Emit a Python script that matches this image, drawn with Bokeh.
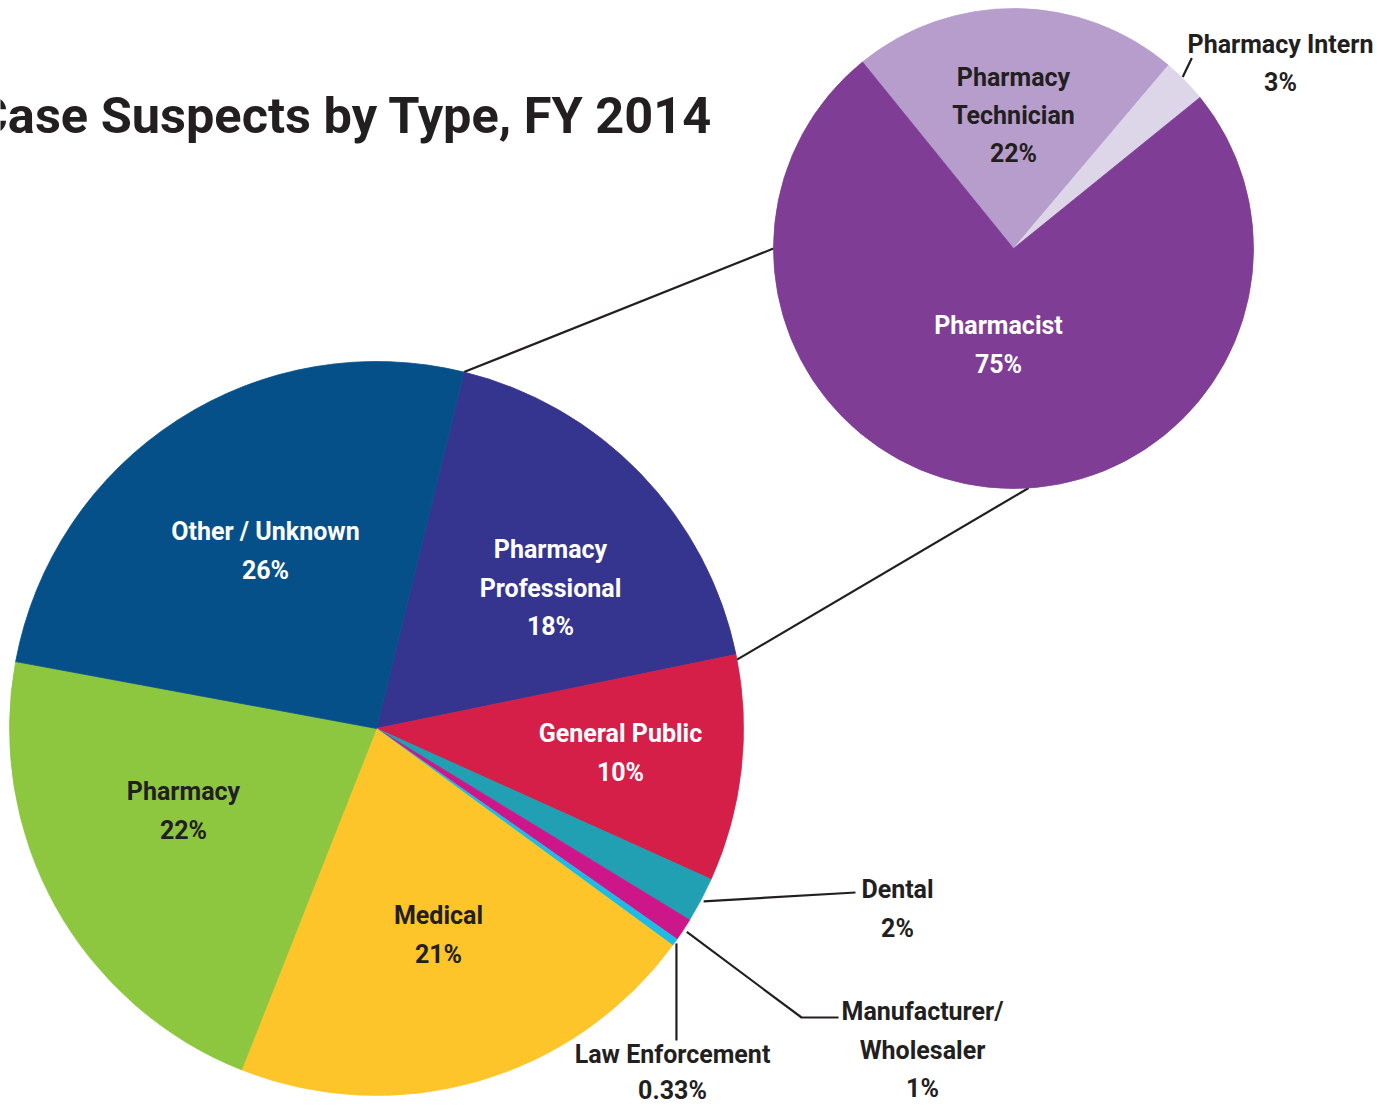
import math
from bokeh.plotting import figure
from bokeh.models import Range1d, ColumnDataSource
from bokeh.embed import file_html
from bokeh.resources import INLINE
from bokeh.core.properties import value

# ---------------- data ----------------
main_categories = ["Pharmacy Professional", "General Public", "Dental",
                   "Manufacturer/Wholesaler", "Law Enforcement", "Medical",
                   "Pharmacy", "Other / Unknown"]
main_values = [18, 10, 2, 1, 0.33, 21, 22, 26]
main_pct_labels = ["18%", "10%", "2%", "1%", "0.33%", "21%", "22%", "26%"]
main_colors = ["#35358F", "#D51E48", "#21A0B4", "#CE168B", "#1EBCE5",
               "#FDC52A", "#8DC63F", "#06508A"]

sub_categories = ["Pharmacy Technician", "Pharmacy Intern", "Pharmacist"]
sub_values = [22, 3, 75]
sub_pct_labels = ["22%", "3%", "75%"]
sub_colors = ["#B79DCB", "#DDD5E8", "#7F3D96"]

title_text = "Case Suspects by Type, FY 2014"

# ---------------- layout ----------------
W, H = 1392, 1105
FONT = "Roboto"
DARK = "#231F20"

MAIN_C = (376, 728)
MAIN_R = 367
MAIN_START = 13.8      # degrees clockwise from north
SUB_C = (1013, 248)
SUB_R = 240
SUB_START = -39.0


def Y(py):
    return H - py


def pt(center, r, theta):
    t = math.radians(theta)
    return center[0] + r * math.sin(t), Y(center[1] - r * math.cos(t))


def angles(values, start):
    tot = float(sum(values))
    out = []
    a = start
    for v in values:
        b = a + v / tot * 360.0
        out.append((a, b))
        a = b
    return out


p = figure(width=W, height=H, x_range=Range1d(0, W), y_range=Range1d(0, H),
           output_backend="svg", toolbar_location=None, min_border=0)
p.axis.visible = False
p.grid.visible = False
p.outline_line_color = None
p.background_fill_color = "white"
p.border_fill_color = "white"

main_ang = angles(main_values, MAIN_START)
sub_ang = angles(sub_values, SUB_START)

# connector lines between main pie slice and exploded pie
pp_a, pp_b = main_ang[0]
c1 = pt(MAIN_C, MAIN_R, pp_a)
c2 = pt(SUB_C, SUB_R, 270.0)
c3 = pt(MAIN_C, MAIN_R, pp_b + 0.8)
c4 = pt(SUB_C, SUB_R, 176.4)
p.segment(x0=[c1[0], c3[0]], y0=[c1[1], c3[1]], x1=[c2[0], c4[0]], y1=[c2[1], c4[1]],
          line_color=DARK, line_width=2.2)


def draw_pie(center, r, angs, colors):
    src = ColumnDataSource(dict(
        start=[math.radians(90 - a) for a, b in angs],
        end=[math.radians(90 - b) for a, b in angs],
        color=colors,
    ))
    p.wedge(x=center[0], y=Y(center[1]), radius=r, start_angle="start", end_angle="end",
            direction="clock", fill_color="color", line_color="color", line_width=0.8,
            source=src)


draw_pie(MAIN_C, MAIN_R, main_ang, main_colors)
draw_pie(SUB_C, SUB_R, sub_ang, sub_colors)


# leader lines for small slices
def mid(ang):
    return (ang[0] + ang[1]) / 2.0


d0 = pt(MAIN_C, MAIN_R + 3, mid(main_ang[2]))
m0 = pt(MAIN_C, MAIN_R + 4, mid(main_ang[3]))
l0 = pt(MAIN_C, MAIN_R + 2, mid(main_ang[4]))
i0 = pt(SUB_C, SUB_R + 1, mid(sub_ang[1]) - 1)
i1 = pt(SUB_C, SUB_R + 21, mid(sub_ang[1]) - 2.5)
p.line([d0[0], 855], [d0[1], Y(892)], line_color=DARK, line_width=2.2)
p.line([m0[0], 801, 838], [m0[1], Y(1017), Y(1017)], line_color=DARK, line_width=2.2)
p.line([l0[0], l0[0]], [l0[1], Y(1040)], line_color=DARK, line_width=2.2)
p.line([i0[0], i1[0]], [i0[1], i1[1]], line_color=DARK, line_width=2.2)

# labels: (lines, x, first y, line step, colour)
label_specs = [
    (["Other / Unknown", main_pct_labels[7]], 265, 531, 39, "white"),
    (["Pharmacy", "Professional", main_pct_labels[0]], 550, 549, 38.5, "white"),
    (["General Public", main_pct_labels[1]], 620, 733, 38.5, "white"),
    (["Pharmacy", main_pct_labels[6]], 183, 791, 38.5, DARK),
    (["Medical", main_pct_labels[5]], 438, 915, 39, DARK),
    (["Dental", main_pct_labels[2]], 897, 889, 39, DARK),
    (["Manufacturer/", "Wholesaler", main_pct_labels[3]], 922, 1011, 38.5, DARK),
    (["Law Enforcement", main_pct_labels[4]], 672, 1054, 35.5, DARK),
    (["Pharmacy", "Technician", sub_pct_labels[0]], 1013, 77, 38, DARK),
    (["Pharmacist", sub_pct_labels[2]], 998, 325, 38.5, "white"),
    (["Pharmacy Intern", sub_pct_labels[1]], 1280, 44, 38, DARK),
]

for lines, x, y0, step, col in label_specs:
    xs = [x] * len(lines)
    ys = [Y(y0 + i * step) for i in range(len(lines))]
    p.text(x=xs, y=ys, text=lines, text_align="center", text_baseline="middle",
           text_font=value(FONT), text_font_style="bold", text_font_size="25px",
           text_color=col)

p.text(x=[712], y=[Y(115)], text=[title_text], text_align="right",
       text_baseline="alphabetic", text_font=value(FONT), text_font_style="bold",
       text_font_size="50.5px", text_color=DARK)

open("out.html", "w").write(file_html(p, INLINE))
